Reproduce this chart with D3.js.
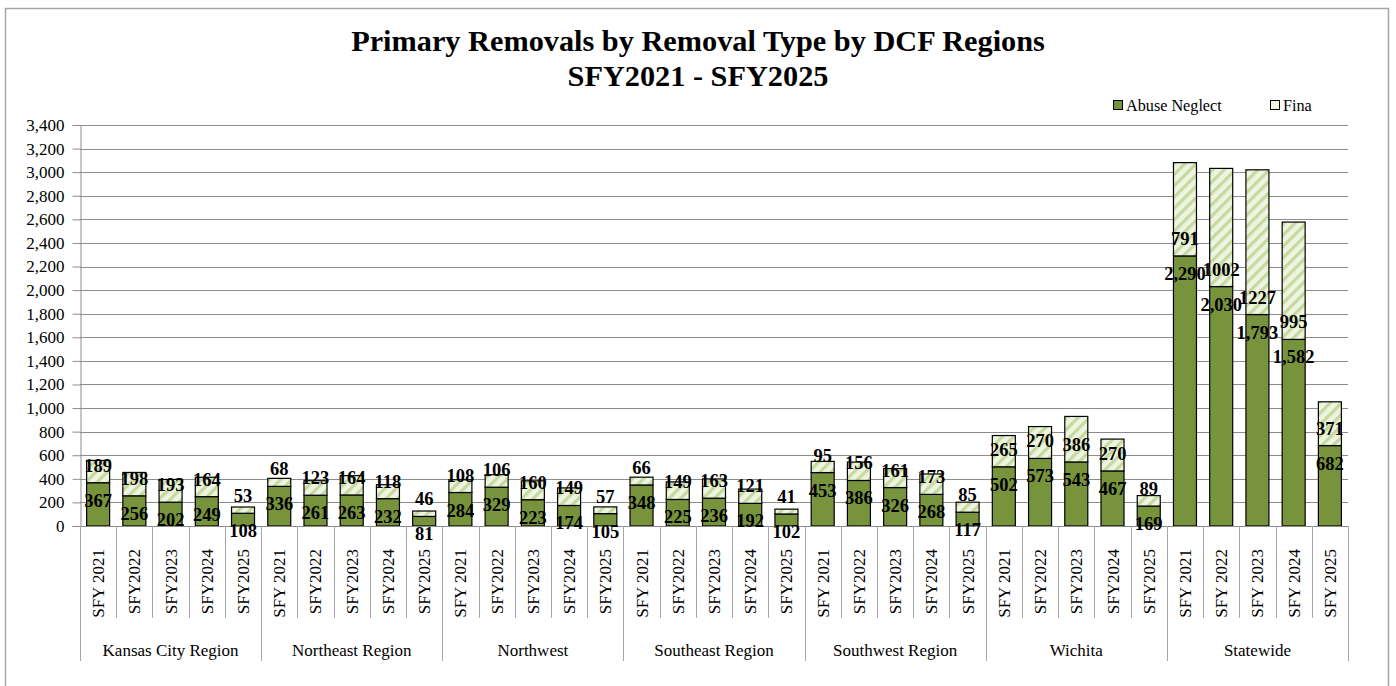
<!DOCTYPE html>
<html>
<head>
<meta charset="utf-8">
<script src="https://cdn.jsdelivr.net/npm/d3@7"></script>
<style>
html,body{margin:0;padding:0;background:#fff;}
svg{display:block;font-family:"Liberation Serif","Times New Roman",serif;}
</style>
</head>
<body>
<svg id="chart" width="1396" height="686"></svg>
<script>
const regions = ["Kansas City Region","Northeast Region","Northwest","Southeast Region","Southwest Region","Wichita","Statewide"];
const yearLabels = [
  ["SFY 2021","SFY2022","SFY2023","SFY2024","SFY2025"],
  ["SFY 2021","SFY2022","SFY2023","SFY2024","SFY2025"],
  ["SFY 2021","SFY2022","SFY2023","SFY2024","SFY2025"],
  ["SFY 2021","SFY2022","SFY2023","SFY2024","SFY2025"],
  ["SFY 2021","SFY2022","SFY2023","SFY2024","SFY2025"],
  ["SFY 2021","SFY2022","SFY2023","SFY2024","SFY2025"],
  ["SFY 2021","SFY 2022","SFY 2023","SFY 2024","SFY 2025"]
];
const abuseNeglect = [
  [367,256,202,249,108],
  [336,261,263,232,81],
  [284,329,223,174,105],
  [348,225,236,192,102],
  [453,386,326,268,117],
  [502,573,543,467,169],
  [2290,2030,1793,1582,682]
];
const fina = [
  [189,198,193,164,53],
  [68,123,164,118,46],
  [108,106,160,149,57],
  [66,149,163,121,41],
  [95,156,161,173,85],
  [265,270,386,270,89],
  [791,1002,1227,995,371]
];
const yTicks = [0,200,400,600,800,1000,1200,1400,1600,1800,2000,2200,2400,2600,2800,3000,3200,3400];
const seriesNames = ["Abuse Neglect","Fina"];

const rows = [];
regions.forEach((r,gi)=>{
  yearLabels[gi].forEach((yl,yi)=>{
    rows.push({key:gi+"|"+yi, region:r, gi, yi, year:yl, a:abuseNeglect[gi][yi], f:fina[gi][yi]});
  });
});

const svg = d3.select("#chart");
const L=80, R=1348, T=125, B=526;
const green="#77933C";

// outer border
svg.append("rect").attr("x",5.5).attr("y",8.5).attr("width",1383).attr("height",690)
  .attr("fill","none").attr("stroke","#a6a6a6").attr("stroke-width",1.5);

// pattern
const defs = svg.append("defs");
const pat = defs.append("pattern").attr("id","finaPat").attr("patternUnits","userSpaceOnUse")
  .attr("width",8).attr("height",8).attr("patternTransform","rotate(45)");
pat.append("rect").attr("width",8).attr("height",8).attr("fill","#EEF3E2");
pat.append("rect").attr("x",0).attr("width",3.2).attr("height",8).attr("fill","#C5DA9C");

const y = d3.scaleLinear().domain([0,3400]).range([B,T]);
const x = d3.scaleBand().domain(rows.map(d=>d.key)).range([L,R]).paddingInner(0.365).paddingOuter(0.1825);
const step = x.step();

// gridlines
svg.append("g").selectAll("line").data(yTicks.filter(d=>d>0)).join("line")
  .attr("x1",L).attr("x2",R).attr("y1",d=>Math.round(y(d))+0.5).attr("y2",d=>Math.round(y(d))+0.5)
  .attr("stroke","#8c8c8c").attr("stroke-width",1);

// y axis
const yAxis = d3.axisLeft(y).tickValues(yTicks).tickFormat(d3.format(",")).tickSize(8).tickPadding(8);
const yg = svg.append("g").attr("transform",`translate(${L+0.5},0)`).call(yAxis);
yg.attr("font-family","Liberation Serif");
yg.select(".domain").attr("stroke","#8c8c8c");
yg.selectAll(".tick line").attr("stroke","#8c8c8c");
yg.selectAll(".tick text").attr("font-size",17).attr("fill","#000");

// bars
const bars = svg.append("g");
bars.selectAll("rect.a").data(rows).join("rect").attr("class","a")
  .attr("x",d=>x(d.key)).attr("width",x.bandwidth())
  .attr("y",d=>y(d.a)).attr("height",d=>y(0)-y(d.a))
  .attr("fill",green).attr("stroke","#000").attr("stroke-width",1.2);
bars.selectAll("rect.f").data(rows).join("rect").attr("class","f")
  .attr("x",d=>x(d.key)).attr("width",x.bandwidth())
  .attr("y",d=>y(d.a+d.f)).attr("height",d=>y(d.a)-y(d.a+d.f))
  .attr("fill","url(#finaPat)").attr("stroke","#000").attr("stroke-width",1.2);

// x axis lines
svg.append("line").attr("x1",L).attr("x2",R).attr("y1",B+0.5).attr("y2",B+0.5).attr("stroke","#8c8c8c");
const bounds = d3.range(rows.length+1);
svg.append("g").selectAll("line").data(bounds).join("line")
  .attr("x1",i=>Math.round(L+i*step)+0.5).attr("x2",i=>Math.round(L+i*step)+0.5)
  .attr("y1",B).attr("y2",i=>i%5===0?661:618)
  .attr("stroke","#a6a6a6").attr("stroke-width",1);

// year labels
svg.append("g").selectAll("text").data(rows).join("text")
  .attr("transform",d=>`translate(${x(d.key)+x.bandwidth()/2+6},549) rotate(-90)`)
  .attr("text-anchor","end").attr("font-size",17).attr("fill","#000").text(d=>d.year);

// region labels
svg.append("g").selectAll("text").data(regions).join("text")
  .attr("x",(d,i)=>L+(i*5+2.5)*step).attr("y",656)
  .attr("text-anchor","middle").attr("font-size",17).attr("fill","#000").text(d=>d);

// data labels
const fmt = d3.format(",");
const lab = svg.append("g").attr("font-weight","bold").attr("font-size",18.5).attr("text-anchor","middle").attr("fill","#000");
lab.selectAll("text.a").data(rows).join("text").attr("class","a")
  .attr("x",d=>x(d.key)+x.bandwidth()/2).attr("y",d=>y(d.a)+24).text(d=>fmt(d.a));
lab.selectAll("text.f").data(rows).join("text").attr("class","f")
  .attr("x",d=>x(d.key)+x.bandwidth()/2).attr("y",d=>y(d.a)-11).text(d=>d.f);

// title
const title = svg.append("g").attr("font-weight","bold").attr("font-size",30.3).attr("text-anchor","middle");
title.append("text").attr("x",698).attr("y",51).text("Primary Removals by Removal Type by DCF Regions");
title.append("text").attr("x",698).attr("y",86).text("SFY2021 - SFY2025");

// legend
const leg = svg.append("g");
const legItems = [{name:seriesNames[0],x:1113,fill:green},{name:seriesNames[1],x:1270,fill:"#EEF3E2"}];
legItems.forEach(it=>{
  leg.append("rect").attr("x",it.x+0.5).attr("y",100.5).attr("width",9).attr("height",9)
    .attr("fill",it.fill).attr("stroke","#000").attr("stroke-width",1);
  leg.append("text").attr("x",it.x+13).attr("y",111).attr("font-size",16.2).attr("fill","#000").text(it.name);
});
</script>
</body>
</html>
